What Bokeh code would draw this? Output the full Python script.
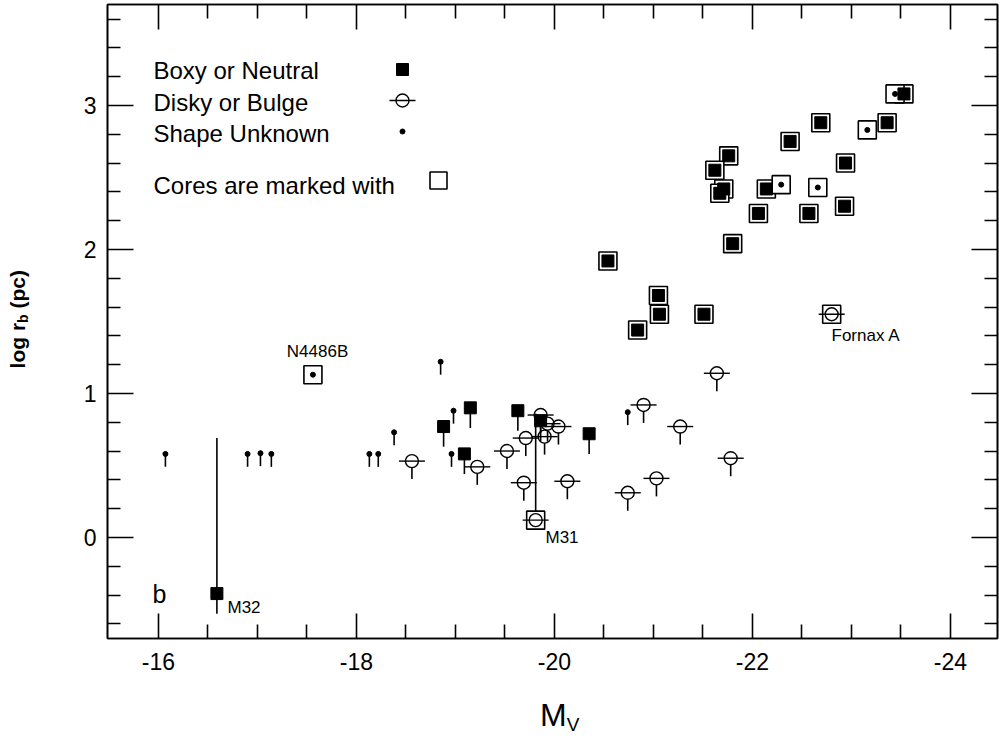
from bokeh.plotting import figure
from bokeh.models import (Range1d, LinearAxis, FixedTicker, Label, Div,
                          CustomLabelingPolicy)
from bokeh.layouts import column, row
from bokeh.embed import file_html
from bokeh.resources import INLINE

# ---------------- data ----------------
# Boxy or Neutral (no core)
boxy_mv = [-16.59, -18.88, -19.15, -19.09, -19.63, -19.86, -20.35]
boxy_logr = [-0.39, 0.77, 0.90, 0.58, 0.88, 0.81, 0.72]

# Disky or Bulge (no core)
disky_mv = [-18.56, -19.22, -19.52, -19.71, -19.86, -19.93, -19.90, -20.04,
            -19.69, -20.13, -20.90, -21.27, -20.74, -21.03, -21.78, -21.64]
disky_logr = [0.53, 0.49, 0.60, 0.69, 0.85, 0.79, 0.70, 0.77,
              0.38, 0.39, 0.92, 0.77, 0.31, 0.41, 0.55, 1.14]

# Shape Unknown (no core)
unk_mv = [-16.07, -16.90, -17.03, -17.14, -18.13, -18.22, -18.38, -18.85,
          -18.98, -18.96, -20.74]
unk_logr = [0.58, 0.58, 0.585, 0.58, 0.58, 0.58, 0.73, 1.22, 0.88, 0.58, 0.87]

# Cores: Boxy or Neutral
core_boxy_mv = [-20.54, -21.05, -21.06, -20.84, -21.51, -21.80, -21.76, -21.62,
                -21.71, -21.67, -22.14, -22.06, -22.38, -22.69, -22.57, -22.94,
                -22.93, -23.36, -23.53]
core_boxy_logr = [1.92, 1.68, 1.55, 1.44, 1.55, 2.04, 2.65, 2.55,
                  2.42, 2.39, 2.42, 2.25, 2.75, 2.88, 2.25, 2.60,
                  2.30, 2.88, 3.08]

# Cores: Disky or Bulge (M31, Fornax A)
core_disky_mv = [-19.81, -22.80]
core_disky_logr = [0.12, 1.55]

# Cores: Shape Unknown (N4486B, ...)
core_unk_mv = [-17.56, -22.29, -22.66, -23.16, -23.44]
core_unk_logr = [1.13, 2.45, 2.43, 2.83, 3.08]

# ranges drawn as long vertical bars (M32, M31)
err_mv = [-16.59, -19.81]
err_lo = [-0.39, 0.12]
err_hi = [0.69, 0.86]

# named objects
names = ["M32", "M31", "N4486B", "Fornax A"]

# ticks
x_major = [-16, -18, -20, -22, -24]
x_minor = [-16.5, -17, -17.5, -18.5, -19, -19.5, -20.5, -21, -21.5,
           -22.5, -23, -23.5]
x_labels = {-16: "-16", -18: "-18", -20: "-20", -22: "-22", -24: "-24"}
y_major = [0, 1, 2, 3]
y_minor = [-0.6, -0.4, -0.2, 0.2, 0.4, 0.6, 0.8, 1.2, 1.4, 1.6, 1.8,
           2.2, 2.4, 2.6, 2.8, 3.2, 3.4, 3.6]

# ---------------- layout helpers ----------------
X0, X1 = -15.485, -24.475
Y0, Y1 = -0.702, 3.701
FW, FH = 890, 634
LEFT_W = 40
FRAME_LEFT, FRAME_TOP = 107, 4
BORDER_BOTTOM = 50
FIG_H = FRAME_TOP + FH + BORDER_BOTTOM


def px2x(px):
    return X0 + (px - FRAME_LEFT) / FW * (X1 - X0)


def py2y(py):
    return Y1 - (py - FRAME_TOP) / FH * (Y1 - Y0)


FONT = "Liberation Sans"
BLACK = "#000000"

p = figure(frame_width=FW, frame_height=FH,
           x_range=Range1d(X0, X1), y_range=Range1d(Y0, Y1),
           output_backend="svg", toolbar_location=None,
           min_border_left=FRAME_LEFT - LEFT_W, min_border_right=0,
           min_border_top=FRAME_TOP, min_border_bottom=BORDER_BOTTOM)
p.grid.visible = False
p.outline_line_color = BLACK
p.outline_line_width = 1.6
p.background_fill_color = "white"
p.border_fill_color = "white"

hide_all = CustomLabelingPolicy(code="for (const i of indices) indices.unset(i)")


def style_axis(ax, ticks, minor, maj_len, min_len, show):
    ax.ticker = FixedTicker(ticks=ticks, minor_ticks=minor)
    ax.major_tick_in = maj_len
    ax.major_tick_out = 0
    ax.minor_tick_in = min_len
    ax.minor_tick_out = 0
    ax.major_tick_line_color = BLACK
    ax.minor_tick_line_color = BLACK
    ax.major_tick_line_width = 1.6
    ax.minor_tick_line_width = 1.6
    ax.axis_line_color = BLACK
    ax.axis_line_width = 1.6
    ax.major_label_text_font = FONT
    ax.major_label_text_color = BLACK
    ax.major_label_text_font_size = "23px"
    if not show:
        ax.major_label_policy = hide_all
        ax.major_label_text_font_size = "1px"
        ax.major_label_standoff = 0


xb = p.xaxis[0]
yl = p.yaxis[0]
style_axis(xb, x_major, x_minor, 25, 14, True)
xb.major_label_overrides = x_labels
xb.major_label_standoff = 14
style_axis(yl, y_major, y_minor, 26, 13, True)
yl.major_label_standoff = 11

xt = LinearAxis()
style_axis(xt, x_major, x_minor, 25, 14, False)
p.add_layout(xt, "above")
yr = LinearAxis()
style_axis(yr, y_major, y_minor, 26, 13, False)
p.add_layout(yr, "right")

LW = 1.6

# long vertical bars
p.segment(x0=err_mv, y0=err_lo, x1=err_mv, y1=err_hi, line_color=BLACK, line_width=LW)

# tails of the non-core points
p.segment(x0=boxy_mv, y0=boxy_logr, x1=boxy_mv, y1=[v - 0.14 for v in boxy_logr],
          line_color=BLACK, line_width=LW)
p.segment(x0=disky_mv, y0=[v - 0.045 for v in disky_logr], x1=disky_mv,
          y1=[v - 0.125 for v in disky_logr], line_color=BLACK, line_width=LW)
p.segment(x0=unk_mv, y0=unk_logr, x1=unk_mv, y1=[v - 0.09 for v in unk_logr],
          line_color=BLACK, line_width=LW)

# core boxes (white-filled, outlined)
core_all_x = core_boxy_mv + core_disky_mv + core_unk_mv
core_all_y = core_boxy_logr + core_disky_logr + core_unk_logr
p.scatter(core_all_x, core_all_y, marker="square", size=18, fill_color="white",
          line_color=BLACK, line_width=LW)

# boxy squares
p.scatter(boxy_mv + core_boxy_mv, boxy_logr + core_boxy_logr, marker="square",
          size=12, fill_color=BLACK, line_color=BLACK, line_width=1)

# disky circles with a horizontal bar
p.scatter(disky_mv + core_disky_mv, disky_logr + core_disky_logr, marker="circle",
          size=13, fill_color=None, line_color=BLACK, line_width=1.4)
p.scatter(disky_mv + core_disky_mv, disky_logr + core_disky_logr, marker="dash",
          size=26, line_color=BLACK, line_width=1.4)

# unknown-shape dots
p.scatter(unk_mv + core_unk_mv, unk_logr + core_unk_logr, marker="circle",
          size=5, fill_color=BLACK, line_color=BLACK, line_width=1)

# ---------------- legend (hand-made, glyph to the right of the text) ----------------
leg_text = ["Boxy or Neutral", "Disky or Bulge", "Shape Unknown", "Cores are marked with"]
leg_py = [70, 102, 133, 185]
for t, py in zip(leg_text, leg_py):
    p.add_layout(Label(x=px2x(153), y=py2y(py), text=t, text_font=FONT,
                       text_font_size="24px", text_color=BLACK,
                       text_align="left", text_baseline="middle"))

p.scatter([px2x(402)], [py2y(69)], marker="square", size=12, fill_color=BLACK,
          line_color=BLACK)
p.scatter([px2x(402)], [py2y(100)], marker="circle", size=13, fill_color=None,
          line_color=BLACK, line_width=1.4)
p.scatter([px2x(402)], [py2y(100)], marker="dash", size=26, line_color=BLACK,
          line_width=1.4)
p.scatter([px2x(402)], [py2y(131)], marker="circle", size=5, fill_color=BLACK,
          line_color=BLACK)
p.scatter([px2x(438)], [py2y(180)], marker="square", size=17, fill_color="white",
          line_color=BLACK, line_width=LW)

# ---------------- object names ----------------
name_pos = {"M32": (227, 607, "left"), "M31": (545, 537, "left"),
            "N4486B": (317, 351, "center"), "Fornax A": (831, 335, "left")}
for n in names:
    px, py, al = name_pos[n]
    p.add_layout(Label(x=px2x(px), y=py2y(py), text=n, text_font=FONT,
                       text_font_size="17px", text_color=BLACK,
                       text_align=al, text_baseline="middle"))

p.add_layout(Label(x=px2x(159), y=py2y(593), text="b", text_font=FONT,
                   text_font_size="25px", text_color=BLACK,
                   text_align="center", text_baseline="middle"))

# ---------------- axis titles (HTML, so that subscripts work) ----------------
left_div = Div(
    text=('<div style="writing-mode: vertical-rl; transform: rotate(180deg); '
          "font-family: 'Liberation Sans', sans-serif; font-weight: bold; "
          'font-size: 21px; line-height: 24px; margin-top: 270px; margin-left: 6px; '
          'white-space: nowrap; color: #000;">'
          'log r<sub style="font-size: 14px;">b</sub> (pc)</div>'),
    width=LEFT_W, height=FIG_H, margin=0)

bottom_div = Div(
    text=("<div style=\"font-family: 'Liberation Sans', sans-serif; font-size: 32px; "
          'line-height: 32px; margin-left: 540px; margin-top: 11px; white-space: nowrap; '
          'color: #000;">M<span style="font-size: 19px; vertical-align: -5px;">V</span></div>'),
    width=LEFT_W + FRAME_LEFT - LEFT_W + FW, height=740 - FIG_H - 2, margin=0)

layout = column(row(left_div, p, spacing=0), bottom_div, spacing=0)

open("out.html", "w").write(file_html(layout, INLINE))
